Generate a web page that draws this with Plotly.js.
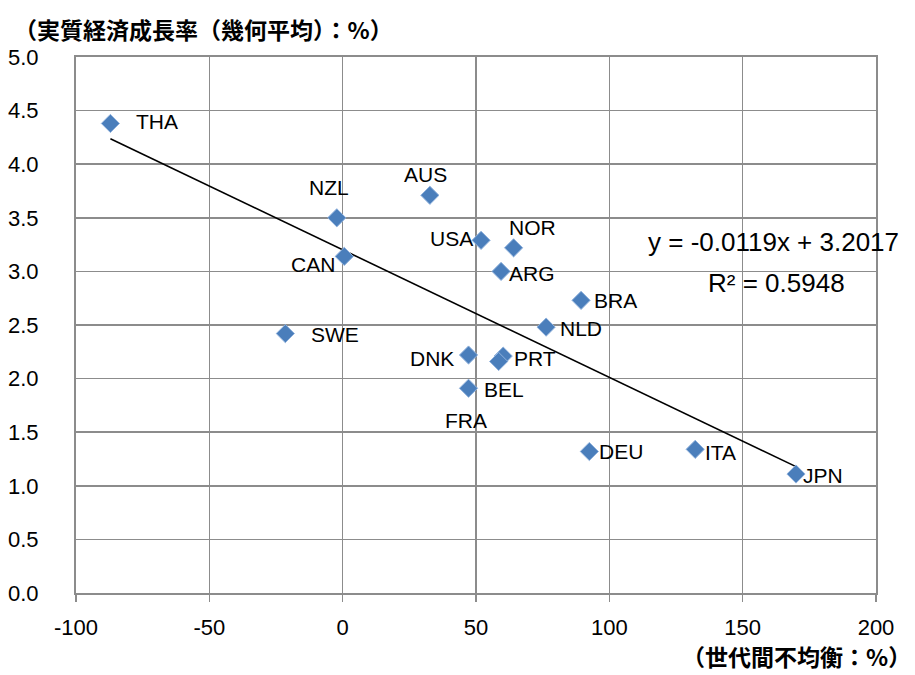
<!DOCTYPE html>
<html>
<head>
<meta charset="utf-8">
<script src="https://cdn.plot.ly/plotly-3.0.1.min.js"></script>
<style>html,body{margin:0;padding:0;background:#fff;}#chart{width:915px;height:675px;}</style>
</head>
<body>
<div id="chart"></div>
<script>
// ---- data ----
var countries = ["THA","NZL","CAN","AUS","SWE","USA","NOR","ARG","BRA","NLD","DNK","PRT","FRA","BEL","DEU","ITA","JPN"];
var imbalance = [-87.1,-2.2,0.6,32.7,-21.5,51.9,64.1,59.4,89.4,76.3,47.2,60.2,58.5,47.2,92.5,132.2,170.0];
var growth    = [4.38,3.50,3.14,3.71,2.42,3.29,3.22,3.00,2.73,2.48,2.22,2.21,2.16,1.91,1.32,1.34,1.11];
var trendSlope = -0.0119;
var trendIntercept = 3.2017;
var rSquared = 0.5948;
var xTickVals = [-100, -50, 0, 50, 100, 150, 200];
var xTickText = ["-100", "-50", "0", "50", "100", "150", "200"];
var yTickVals = [0, 0.5, 1, 1.5, 2, 2.5, 3, 3.5, 4, 4.5, 5];
var yTickText = ["0.0","0.5","1.0","1.5","2.0","2.5","3.0","3.5","4.0","4.5","5.0"];
var yTitle = "（実質経済成長率（幾何平均）：%）";
var xTitle = "（世代間不均衡：%）";

// ---- label placement (screen px offsets from the marker) ----
var labelOffset = {
  THA:[47,-2], NZL:[-8,-30], CAN:[-31,8], AUS:[-4,-21], SWE:[50,1],
  USA:[-30,-2], NOR:[19,-20], ARG:[31,2], BRA:[34,0], NLD:[35,1],
  DNK:[-37,3], PRT:[32,2], FRA:[-33,59], BEL:[35,1], DEU:[32,0],
  ITA:[25,3], JPN:[27,1]
};

var xMin = Math.min.apply(null, imbalance), xMax = Math.max.apply(null, imbalance);
var trendX = [xMin, xMax];
var trendY = trendX.map(function(v){ return trendSlope * v + trendIntercept; });

var latin = "Liberation Sans, Arial, sans-serif";
var cjk = "Noto Sans CJK JP, sans-serif";

var traces = [
  {
    x: trendX, y: trendY, type: "scatter", mode: "lines",
    line: {color: "#000000", width: 1.6}, hoverinfo: "skip"
  },
  {
    x: imbalance, y: growth, type: "scatter", mode: "markers",
    marker: {symbol: "diamond", size: 14, color: "#4a7ebb", line: {color: "#8fb1dc", width: 1}},
    hoverinfo: "skip"
  }
];

var annotations = countries.map(function(c, i){
  var o = labelOffset[c];
  return {
    x: imbalance[i], y: growth[i], xref: "x", yref: "y", text: c, showarrow: false,
    xshift: o[0], yshift: -o[1], xanchor: "center", yanchor: "middle",
    font: {family: latin, size: 21, color: "#000"}
  };
});

annotations.push({
  xref: "paper", yref: "paper", x: (773 - 76) / 800, y: (592.7 - 242) / 536,
  xanchor: "center", yanchor: "middle", showarrow: false,
  text: "y = " + trendSlope + "x + " + trendIntercept,
  font: {family: latin, size: 26, color: "#000"}
});
annotations.push({
  xref: "paper", yref: "paper", x: (776 - 76) / 800, y: (592.7 - 283) / 536,
  xanchor: "center", yanchor: "middle", showarrow: false,
  text: "R² = " + rSquared,
  font: {family: latin, size: 26, color: "#000"}
});
annotations.push({
  xref: "paper", yref: "paper", x: (12 - 76) / 800, y: (592.7 - 29) / 536,
  xanchor: "left", yanchor: "middle", showarrow: false,
  text: "<b>" + yTitle + "</b>",
  font: {family: cjk, size: 23, color: "#000"}
});
annotations.push({
  xref: "paper", yref: "paper", x: (913 - 76) / 800, y: (592.7 - 656) / 536,
  xanchor: "right", yanchor: "middle", showarrow: false,
  text: "<b>" + xTitle + "</b>",
  font: {family: cjk, size: 23, color: "#000"}
});

var layout = {
  width: 915, height: 675,
  margin: {l: 76, r: 39, t: 57, b: 82, pad: 0},
  paper_bgcolor: "#ffffff", plot_bgcolor: "#ffffff",
  showlegend: false,
  font: {family: latin, size: 22, color: "#000"},
  xaxis: {
    range: [-100, 200], tickmode: "array", tickvals: xTickVals, ticktext: xTickText,
    showgrid: true, gridcolor: "#8c8c8c", gridwidth: 1.5, zeroline: false,
    showline: true, linecolor: "#8c8c8c", linewidth: 2, mirror: true,
    ticks: "outside", ticklen: 7, tickcolor: "#8c8c8c", tickwidth: 1.5,
    ticklabelstandoff: 7,
    tickfont: {family: latin, size: 22, color: "#000"}
  },
  yaxis: {
    range: [0, 5], tickmode: "array", tickvals: yTickVals, ticktext: yTickText,
    showgrid: true, gridcolor: "#8c8c8c", gridwidth: 1.5, zeroline: false,
    showline: true, linecolor: "#8c8c8c", linewidth: 2, mirror: true,
    ticks: "", ticklabelstandoff: 31,
    tickfont: {family: latin, size: 22, color: "#000"}
  },
  annotations: annotations
};

Plotly.newPlot("chart", traces, layout, {staticPlot: true, displayModeBar: false});
</script>
</body>
</html>
